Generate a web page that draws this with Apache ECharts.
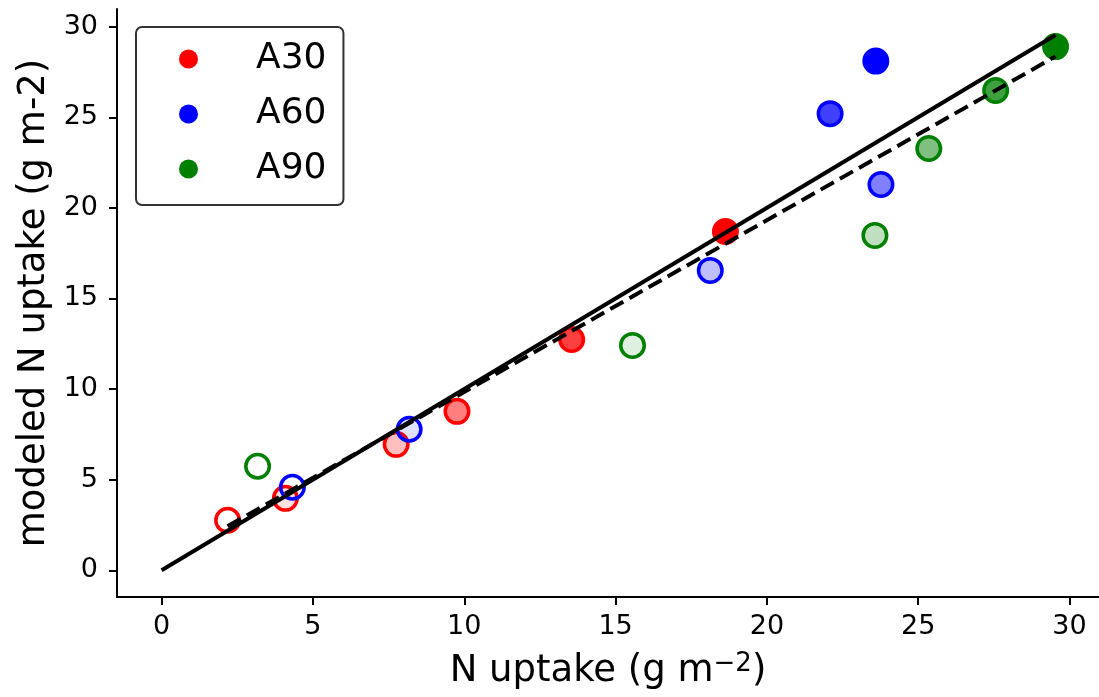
<!DOCTYPE html>
<html>
<head>
<meta charset="utf-8">
<script src="https://cdn.jsdelivr.net/npm/echarts@6/dist/echarts.min.js"></script>
<style>
  html, body { margin: 0; padding: 0; background: #fff; }
  #main { width: 1099px; height: 697px; }
</style>
</head>
<body>
<div id="main"></div>
<script>
// measured vs modeled N uptake, one list per treatment
var redX = [2.18, 4.09, 7.75, 9.76, 13.55, 18.63];
var redY = [2.76, 3.97, 6.95, 8.77, 12.74, 18.70];
var redStage = [0, 1, 2, 3, 4, 5];

var blueX = [4.32, 8.18, 18.13, 22.09, 23.60, 23.77];
var blueY = [4.58, 7.78, 16.55, 25.20, 28.10, 21.29];
var blueStage = [0, 1, 2, 4, 5, 3];

var greenX = [3.17, 15.56, 23.57, 25.35, 27.56, 29.54];
var greenY = [5.74, 12.41, 18.48, 23.28, 26.48, 28.90];
var greenStage = [0, 1, 2, 3, 4, 5];

var tickValues = [0, 5, 10, 15, 20, 25, 30];

// fill opacity per stage (edge stays full colour)
var stageAlpha = [0, 0.12, 0.25, 0.5, 0.75, 1];

var groups = [
    { name: 'A30', rgb: [255, 0, 0], xs: redX, ys: redY, st: redStage },
    { name: 'A60', rgb: [0, 0, 255], xs: blueX, ys: blueY, st: blueStage },
    { name: 'A90', rgb: [0, 128, 0], xs: greenX, ys: greenY, st: greenStage }
];

// least squares fit over all points
var allX = redX.concat(blueX, greenX);
var allY = redY.concat(blueY, greenY);
var n = allX.length, mx = 0, my = 0;
for (var i = 0; i < n; i++) { mx += allX[i]; my += allY[i]; }
mx /= n; my /= n;
var sxy = 0, sxx = 0;
for (var i = 0; i < n; i++) {
    sxy += (allX[i] - mx) * (allY[i] - my);
    sxx += (allX[i] - mx) * (allX[i] - mx);
}
var slope = sxy / sxx;
var icpt = my - slope * mx;
var xMin = Math.min.apply(null, allX);
var xMax = Math.max.apply(null, allX);

var series = groups.map(function (g) {
    var c = 'rgb(' + g.rgb.join(',') + ')';
    return {
        name: g.name,
        type: 'scatter',
        symbolSize: 23.5,
        z: 2,
        itemStyle: { color: c, borderColor: c, borderWidth: 3.5, opacity: 1 },
        data: g.xs.map(function (x, k) {
            return {
                value: [x, g.ys[k]],
                itemStyle: { color: 'rgba(' + g.rgb.join(',') + ',' + stageAlpha[g.st[k]] + ')' }
            };
        })
    };
});

series.push({
    name: '1:1',
    type: 'line',
    showSymbol: false,
    z: 5,
    lineStyle: { color: '#000', width: 4 },
    data: [[0, 0], [xMax, xMax]]
});
series.push({
    name: 'fit',
    type: 'line',
    showSymbol: false,
    z: 5,
    lineStyle: { color: '#000', width: 4, type: [15, 7] },
    data: [[xMin, icpt + slope * xMin], [xMax, icpt + slope * xMax]]
});

var font = 'DejaVu Sans';

var chartDom = document.getElementById('main');
var myChart = echarts.init(chartDom);
var option = {
    animation: false,
    textStyle: { fontFamily: font },
    grid: { left: 117, top: 9, width: 984, height: 588 },
    legend: {
        data: ['A30', 'A60', 'A90'],
        orient: 'vertical',
        left: 136,
        top: 27,
        icon: 'circle',
        itemWidth: 19,
        itemHeight: 19,
        itemGap: 15,
        padding: [12, 17, 16, 43],
        backgroundColor: '#fff',
        borderColor: '#333',
        borderWidth: 2,
        borderRadius: 6,
        itemStyle: { borderWidth: 0 },
        textStyle: {
            fontFamily: font, fontSize: 36, color: '#000',
            lineHeight: 40, padding: [0, 0, 0, 53]
        }
    },
    xAxis: {
        type: 'value',
        min: -1.475,
        max: 30.975,
        name: 'N uptake (g m{sup|\u22122})',
        nameLocation: 'middle',
        nameGap: 54,
        nameTextStyle: {
            fontFamily: font, fontSize: 37, color: '#000',
            rich: { sup: { fontFamily: font, fontSize: 26, verticalAlign: 'top', padding: [0, 0, 15, 0] } }
        },
        splitLine: { show: false },
        axisLine: { onZero: false, lineStyle: { color: '#000', width: 2 } },
        axisTick: { customValues: tickValues, length: 8, lineStyle: { color: '#000', width: 2 } },
        axisLabel: { customValues: tickValues, fontFamily: font, fontSize: 27, color: '#000', margin: 16 }
    },
    yAxis: {
        type: 'value',
        min: -1.475,
        max: 30.975,
        name: 'modeled N uptake (g m-2)',
        nameLocation: 'middle',
        nameGap: 59,
        nameTextStyle: { fontFamily: font, fontSize: 37, color: '#000' },
        splitLine: { show: false },
        axisLine: { show: true, onZero: false, lineStyle: { color: '#000', width: 2 } },
        axisTick: { show: true, customValues: tickValues, length: 8, lineStyle: { color: '#000', width: 2 } },
        axisLabel: { customValues: tickValues, fontFamily: font, fontSize: 27, color: '#000', margin: 19 }
    },
    series: series
};

option && myChart.setOption(option);
</script>
</body>
</html>
